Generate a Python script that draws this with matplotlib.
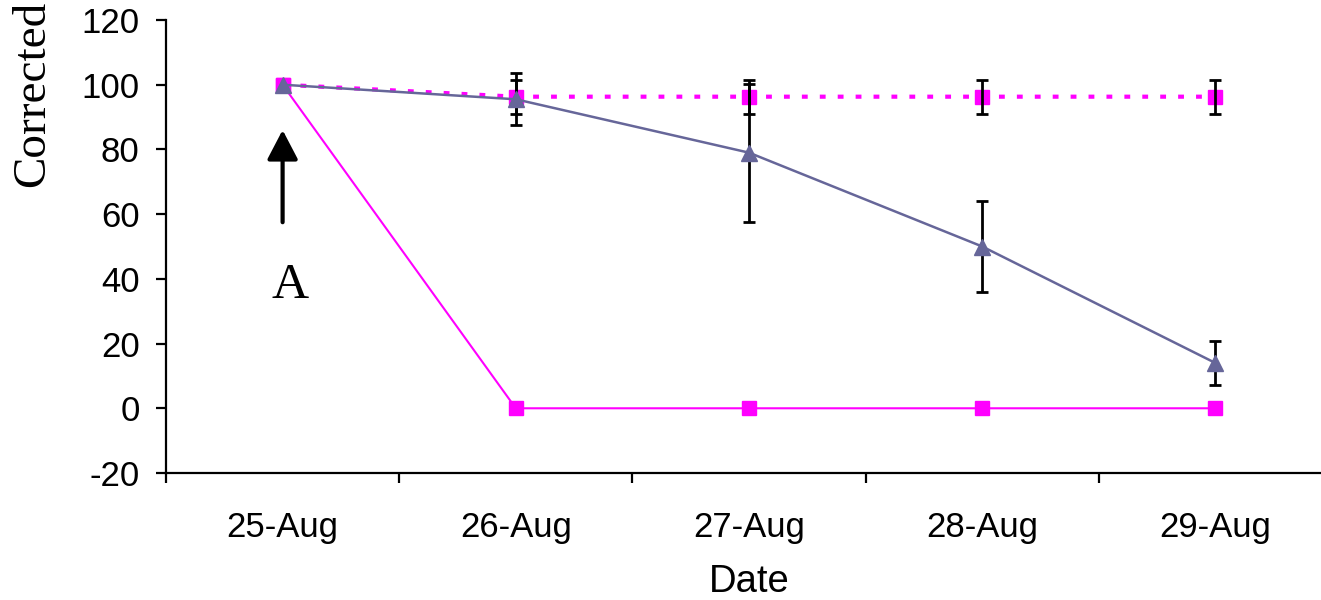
import matplotlib
matplotlib.use("Agg")
import matplotlib.pyplot as plt
import numpy as np

dates = ["25-Aug", "26-Aug", "27-Aug", "28-Aug", "29-Aug"]
control_solid = [100, 0, 0, 0, 0]
dotted_vals = [100, 96.3, 96.3, 96.3, 96.3]
dotted_err = [np.nan, 5.3, 5.3, 5.3, 5.3]
tri_vals = [100, 95.5, 79, 50, 14]
tri_err = [np.nan, 8, 21.3, 14.2, 6.7]
yticks = [-20, 0, 20, 40, 60, 80, 100, 120]

MAG = "#FF00FF"
PUR = "#666699"

plt.rcParams['font.family'] = ['Liberation Sans', 'DejaVu Sans']

fig = plt.figure(figsize=(13.21, 6.0), dpi=100)
ax = fig.add_axes([166/1321, 1-473/600, (1332-166)/1321, (473-20)/600])

x = np.arange(len(dates))

ax.plot(x, control_solid, color=MAG, lw=1.5, marker='s', ms=10,
        mfc=MAG, mec=MAG, zorder=3)
ax.plot(x, dotted_vals, color=MAG, lw=3, linestyle=(0, (1.4, 2.9)),
        marker='s', ms=10, mfc=MAG, mec=MAG, zorder=3)
ax.errorbar(x, dotted_vals, yerr=dotted_err, fmt='none', ecolor='black',
            elinewidth=2, capsize=4, capthick=2, zorder=4)
ax.plot(x, tri_vals, color=PUR, lw=1.8, marker='^', ms=12,
        mfc=PUR, mec=PUR, zorder=5)
ax.errorbar(x, tri_vals, yerr=tri_err, fmt='none', ecolor='black',
            elinewidth=2, capsize=4, capthick=2, zorder=4)

ax.set_xlim(-0.5, len(dates) - 0.5)
ax.set_ylim(-20, 120)
ax.set_yticks(yticks)
ax.set_yticklabels([str(v) for v in yticks])
ax.set_xticks(x)
ax.set_xticklabels(dates)
ax.set_xticks(np.arange(-0.5, len(dates), 1.0), minor=True)

for s in ['top', 'right']:
    ax.spines[s].set_visible(False)
for s in ['left', 'bottom']:
    ax.spines[s].set_linewidth(1.6)

ax.tick_params(axis='y', which='major', direction='out', length=7, width=1.6,
               labelsize=25, pad=12)
ax.tick_params(axis='x', which='major', length=0, labelsize=25, pad=27)
ax.tick_params(axis='x', which='minor', direction='out', length=7, width=1.6)

ax.set_xlabel("Date", fontsize=27.5)
ax.xaxis.set_label_coords(0.5, (473-582)/453)
ax.xaxis.label.set_va('center')

# arrow + annotation "A"
ax.annotate("", xy=(0, 86.0), xytext=(0, 57.5),
            arrowprops=dict(arrowstyle='-|>,head_width=0.47,head_length=0.9',
                            mutation_scale=20, lw=3, color='black',
                            shrinkA=0, shrinkB=0), zorder=6)
ax.text(0.03, (408-286)/3.233, "A", fontsize=37, ha='center', va='center',
        family=['Liberation Serif', 'DejaVu Serif'])

fig.text(33/1321, 1-187/600, "Corrected", rotation=90, ha='center', va='bottom',
         fontsize=34, family=['Liberation Serif', 'DejaVu Serif'])

fig.savefig("out.png", dpi=100)
